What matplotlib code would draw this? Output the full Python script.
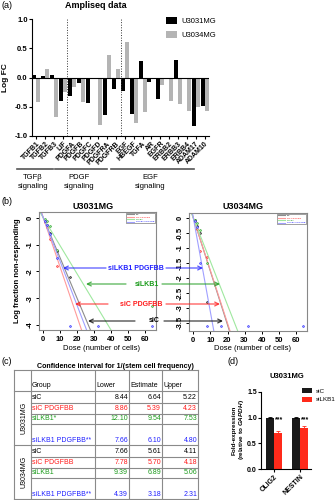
import numpy as np
import matplotlib
matplotlib.use('Agg')
from matplotlib import pyplot as plt

plt.rcParams['font.family'] = ['Liberation Sans', 'DejaVu Sans']
plt.rcParams['mathtext.fontset'] = 'custom'
plt.rcParams['mathtext.it'] = 'Liberation Sans:italic:bold'

# (a) Ampliseq log fold change
genes = ['TGFB1', 'TGFB2', 'TGFB3', 'LIF', 'PDGFA', 'PDGFB', 'PDGFC', 'PDGFD',
         'PDGFRA', 'PDGFRB', 'EGF', 'HBEGF', 'TGFA', 'AR', 'EGFR', 'ERBB2',
         'ERBB3', 'ERBB4', 'ADAM17', 'ADAM10']
fc_3031 = [0.05, 0.03, 0.04, -0.41, -0.31, -0.09, -0.43, -0.01, -0.64, -0.20,
           -0.23, -0.63, 0.28, -0.07, -0.37, -0.02, 0.30, 0.0, -0.83, -0.49]
fc_3034 = [-0.42, 0.15, -0.68, -0.24, -0.17, -0.42, -0.01, -0.81, 0.39, 0.15,
           0.60, -0.77, -0.59, -0.01, -0.12, -0.40, -0.46, -0.57, -0.51, -0.58]
pathways = ['TGF\u03b2\nsignaling', 'PDGF\nsignaling', 'EGF\nsignaling']

# (b)/(c) limiting dilution
groups = ['siC', 'siC PDGFBB', 'siLKB1', 'siLKB1 PDGFBB']
group_colors = ['black', '#ff1a1a', '#1a9a1a', '#2020ff']
line_colors = ['#8c8c8c', '#ff9a9a', '#9fe89f', '#a0a0ff']
rows_3031 = ['siC', 'siC PDGFBB', 'siLKB1*', 'siLKB1 PDGFBB**']
rows_3034 = ['siC', 'siC PDGFBB', 'siLKB1', 'siLKB1 PDGFBB**']
lower_3031 = [8.44, 8.86, 12.10, 7.66]
est_3031 = [6.64, 5.39, 9.54, 6.10]
upper_3031 = [5.22, 4.23, 7.53, 4.80]
lower_3034 = [7.66, 7.78, 9.39, 4.39]
est_3034 = [5.61, 5.70, 6.89, 3.18]
upper_3034 = [4.11, 4.18, 5.06, 2.31]

nan = np.nan
doses = [1, 2, 4, 8, 16, 32, 64]
pts_3031 = [
    [-0.12, -0.28, -0.55, -1.25, -2.2, nan, nan],
    [-0.15, -0.35, -0.8, -1.8, nan, nan, nan],
    [-0.05, -0.1, -0.3, -1.2, nan, nan, -3.3],
    [-0.1, -0.25, -0.6, -1.5, -4.05, -4.05, -4.05],
]
pts_3034 = [
    [-0.05, -0.25, -0.5, -2.8, nan, nan, nan],
    [-0.1, -0.35, -1.1, -1.3, nan, nan, nan],
    [-0.05, -0.15, -0.4, -1.5, nan, nan, nan],
    [-0.1, -0.3, -1.5, -3.6, -3.6, -3.6, -3.6],
]

# (d) qPCR
genes_d = ['OLIG2', 'NESTIN']
siC_expr = [1.0, 1.0]
siC_err = [0.01, 0.01]
siLKB1_expr = [0.70, 0.80]
siLKB1_err = [0.045, 0.035]

W, H = 335, 500
fig = plt.figure(figsize=(W / 100, H / 100), dpi=100)


def rect(x0, y0, x1, y1):
    return [x0 / W, 1 - y1 / H, (x1 - x0) / W, (y1 - y0) / H]


def ftext(x, y, s, **kw):
    fig.text(x / W, 1 - y / H, s, **kw)


# ---- panel a
axa = fig.add_axes(rect(32, 19, 209, 136))
x = np.arange(len(genes))
bw = 0.45
axa.bar(x - bw / 2, fc_3031, bw, color='black', label='U3031MG')
axa.bar(x + bw / 2, fc_3034, bw, color='#b4b4b4', label='U3034MG')
axa.set_xlim(-0.5, len(genes) - 0.5)
axa.set_ylim(-1, 1)
axa.axhline(0, color='black', lw=0.8)
for b in [3.5, 9.5]:
    axa.axvline(b, ls=':', color='#333333', lw=0.7)
for s in ['top', 'right']:
    axa.spines[s].set_visible(False)
for s in ['left', 'bottom']:
    axa.spines[s].set_linewidth(0.8)
axa.set_xticks(x)
axa.set_xticklabels(genes, rotation=45, ha='right', rotation_mode='anchor',
                    fontsize=5, fontweight='bold')
axa.set_yticks([-1, -0.5, 0, 0.5, 1])
axa.set_yticklabels(['%.1f' % v for v in [-1, -0.5, 0, 0.5, 1]],
                    fontsize=5.5, fontweight='bold')
axa.tick_params(length=2, width=0.8, pad=1)
axa.set_ylabel('Log FC', fontsize=6, fontweight='bold', labelpad=4)
axa.legend(loc='upper left', bbox_to_anchor=(166 / W, 1 - 17 / H),
           bbox_transform=fig.transFigure, frameon=False, fontsize=5.5,
           handlelength=1.45, handleheight=1.1, labelspacing=0.75,
           borderpad=0, borderaxespad=0, handletextpad=0.6)

# ---- panel b
doses_arr = np.array(doses)
for rc, ests, pts, ylim, yt, title, tx in [
        ((39, 212, 156, 330), est_3031, pts_3031, (-4.19, 0.22),
         [0, -1, -2, -3, -4], 'U3031MG', 93),
        ((189, 213, 307, 331), est_3034, pts_3034, (-3.77, 0.17),
         [0, -0.5, -1, -1.5, -2, -2.5, -3, -3.5], 'U3034MG', 243)]:
    ax = fig.add_axes(rect(*rc))
    xl = np.array([-2.56, 66.56])
    handles = []
    for est, lc, gc, p in zip(ests, line_colors, group_colors, pts):
        h, = ax.plot(xl, -xl / est, color=lc, lw=0.8)
        handles.append(h)
        ax.plot(doses_arr, p, 'o', color=lc, mec=gc, ms=1.3, mew=0.4)
    ax.set_xlim(*xl)
    ax.set_ylim(*ylim)
    ax.set_xticks([0, 10, 20, 30, 40, 50, 60])
    ax.set_yticks(yt)
    ax.set_yticklabels([('%g' % v) for v in yt], rotation=90, va='center')
    ax.tick_params(labelsize=5.5, length=2.5, width=0.7, pad=1.5)
    for lab in ax.get_xticklabels() + ax.get_yticklabels():
        lab.set_fontweight('bold')
    for s in ax.spines.values():
        s.set_color('#888888')
        s.set_linewidth(0.8)
    leg = ax.legend(handles, groups, loc='upper right', fontsize=1.7,
                    frameon=True, fancybox=False, edgecolor='#333333',
                    handlelength=3, borderpad=0.4, borderaxespad=0.3,
                    labelspacing=0.3, labelcolor=group_colors)
    leg.get_frame().set_linewidth(0.4)
    ftext(tx, 207, title, ha='center', va='center', fontsize=6.5,
          fontweight='bold')
    ftext((rc[0] + rc[2]) / 2 + 4, 349, 'Dose (number of cells)',
          ha='center', va='center', fontsize=5.5)
ftext(18, 271, 'Log fraction non-responding', rotation=90, ha='center',
      va='center', fontsize=5.5, fontweight='bold')

# ---- panel d
axd = fig.add_axes(rect(261, 392, 311, 469))
xd = np.arange(len(genes_d))
bwd = 0.32
axd.bar(xd - bwd / 2, siC_expr, bwd, color='#1a1a1a', label='siC',
        yerr=[[0] * 2, siC_err], capsize=1.5,
        error_kw=dict(lw=0.6, capthick=0.6, ecolor='black'))
axd.bar(xd + bwd / 2, siLKB1_expr, bwd, color='#ff2a1a', label='siLKB1',
        yerr=[[0] * 2, siLKB1_err], capsize=1.5,
        error_kw=dict(lw=0.6, capthick=0.6, ecolor='#ff2a1a'))
for xi in xd:
    axd.text(xi + bwd / 2 + 0.02, 0.95, '***', ha='center', va='center',
             fontsize=5, fontweight='bold')
axd.set_xlim(-0.5, 1.42)
axd.set_ylim(0, 1.5)
axd.set_yticks([0, 0.5, 1.0, 1.5])
axd.set_yticklabels(['0.0', '0.5', '1.0', '1.5'], fontsize=5,
                    fontweight='bold')
axd.set_xticks(xd)
axd.set_xticklabels(genes_d, rotation=45, ha='right', rotation_mode='anchor',
                    fontsize=5, fontweight='bold')
axd.tick_params(length=2, width=0.8, pad=1)
for s in ['top', 'right']:
    axd.spines[s].set_visible(False)
for s in ['left', 'bottom']:
    axd.spines[s].set_linewidth(0.8)
axd.legend(loc='upper left', bbox_to_anchor=(302 / W, 1 - 388 / H),
           bbox_transform=fig.transFigure, frameon=False, fontsize=4.5,
           handlelength=1.6, handleheight=0.9, labelspacing=0.45,
           borderpad=0, borderaxespad=0, handletextpad=0.55)
ftext(287, 377, 'U3031MG', ha='center', va='center', fontsize=5.5,
      fontweight='bold')
ftext(234, 430, 'Fold-expression', rotation=90, ha='center', va='center',
      fontsize=4.6, fontweight='bold')
ftext(241.5, 430, '(relative to $\\it{GAPDH}$)', rotation=90, ha='center',
      va='center', fontsize=4.6, fontweight='bold')

# ---- overlay: labels, brackets, arrows, table
ov = fig.add_axes([0, 0, 1, 1])
ov.set_xlim(0, W)
ov.set_ylim(H, 0)
ov.axis('off')

for lab, px, py in [('(a)', 2, 6), ('(b)', 2, 202), ('(c)', 2, 362),
                    ('(d)', 227, 362)]:
    ov.text(px, py, lab, ha='left', va='center', fontsize=6.5)

ftext(96, 6, 'Ampliseq data', ha='center', va='center', fontsize=6.5,
      fontweight='bold')

for name, (x0, x1) in zip(pathways, [(17, 53), (55, 107), (111, 194)]):
    ov.plot([x0, x1], [169, 169], color='#555555', lw=1.2)
    ov.text((x0 + x1) / 2 - 2, 182, name, ha='center', va='center',
            fontsize=5.5, linespacing=1.3)

# arrows between the two dilution plots, one row per group
arrow_specs = [
    # y, label center, left head, left tail, right tail, right head
    (321, 154, 88, 135, 164, 223),
    (304, 141, 75, 108, 166, 220),
    (284, 147, 86, 126, 162, 220),
    (268, 136, 63, 106, 166, 203),
]
for g, gc, (yy, lc_, lh, lt, rt, rh) in zip(groups, group_colors,
                                           arrow_specs):
    for tail, head in [(lt, lh), (rt, rh)]:
        ov.annotate('', xy=(head, yy), xytext=(tail, yy),
                    arrowprops=dict(arrowstyle='->', color=gc, lw=0.9,
                                    mutation_scale=7, alpha=0.75,
                                    shrinkA=0, shrinkB=0))
    ov.text(lc_, yy, g, ha='center', va='center', fontsize=5,
            fontweight='bold', color=gc)

# table (c)
ov.text(115, 366, 'Confidence interval for 1/(stem cell frequency)',
        ha='center', va='center', fontsize=5.1, fontweight='bold')
col_edges = [14, 31, 95, 129, 162, 198]
heights = [11.5, 11, 10.5, 21]
tcol = '#8a8a8a'
top, head_bot = 370, 391
ov.plot([col_edges[0], col_edges[-1]], [top, top], color=tcol, lw=0.8)
for hdr, cx in zip(['Group', 'Lower', 'Estimate', 'Upper'], col_edges[1:-1]):
    ov.text(cx + 1, head_bot - 2, hdr, ha='left', va='bottom', fontsize=5)
ybase = head_bot
for gname, rows, lo, es, up in [('U3031MG', rows_3031, lower_3031,
                                 est_3031, upper_3031),
                                ('U3034MG', rows_3034, lower_3034,
                                 est_3034, upper_3034)]:
    ov.plot([col_edges[0], col_edges[-1]], [ybase, ybase], color=tcol, lw=0.8)
    y = ybase
    for i, (r, a, b, c) in enumerate(zip(rows, lo, es, up)):
        y1 = y + heights[i]
        gc = group_colors[i]
        ov.text(col_edges[1] + 1, y1 - 1.5, r, ha='left', va='bottom',
                fontsize=5, color=gc)
        for v, ce in zip([a, b, c], col_edges[3:]):
            ov.text(ce - 1, y1 - 1.5, '%.2f' % v, ha='right', va='bottom',
                    fontsize=5, color=gc)
        if i < len(rows) - 1:
            ov.plot([col_edges[1], col_edges[-1]], [y1, y1], color=tcol,
                    lw=0.8)
        y = y1
    ov.text((col_edges[0] + col_edges[1]) / 2 + 2, (ybase + y) / 2, gname,
            rotation=90, ha='center', va='center', fontsize=5)
    ybase = y
ov.plot([col_edges[0], col_edges[-1]], [ybase, ybase], color=tcol, lw=0.8)
for ce in col_edges:
    ov.plot([ce, ce], [top, ybase], color=tcol, lw=0.8)

fig.savefig('out.png', dpi=100)
